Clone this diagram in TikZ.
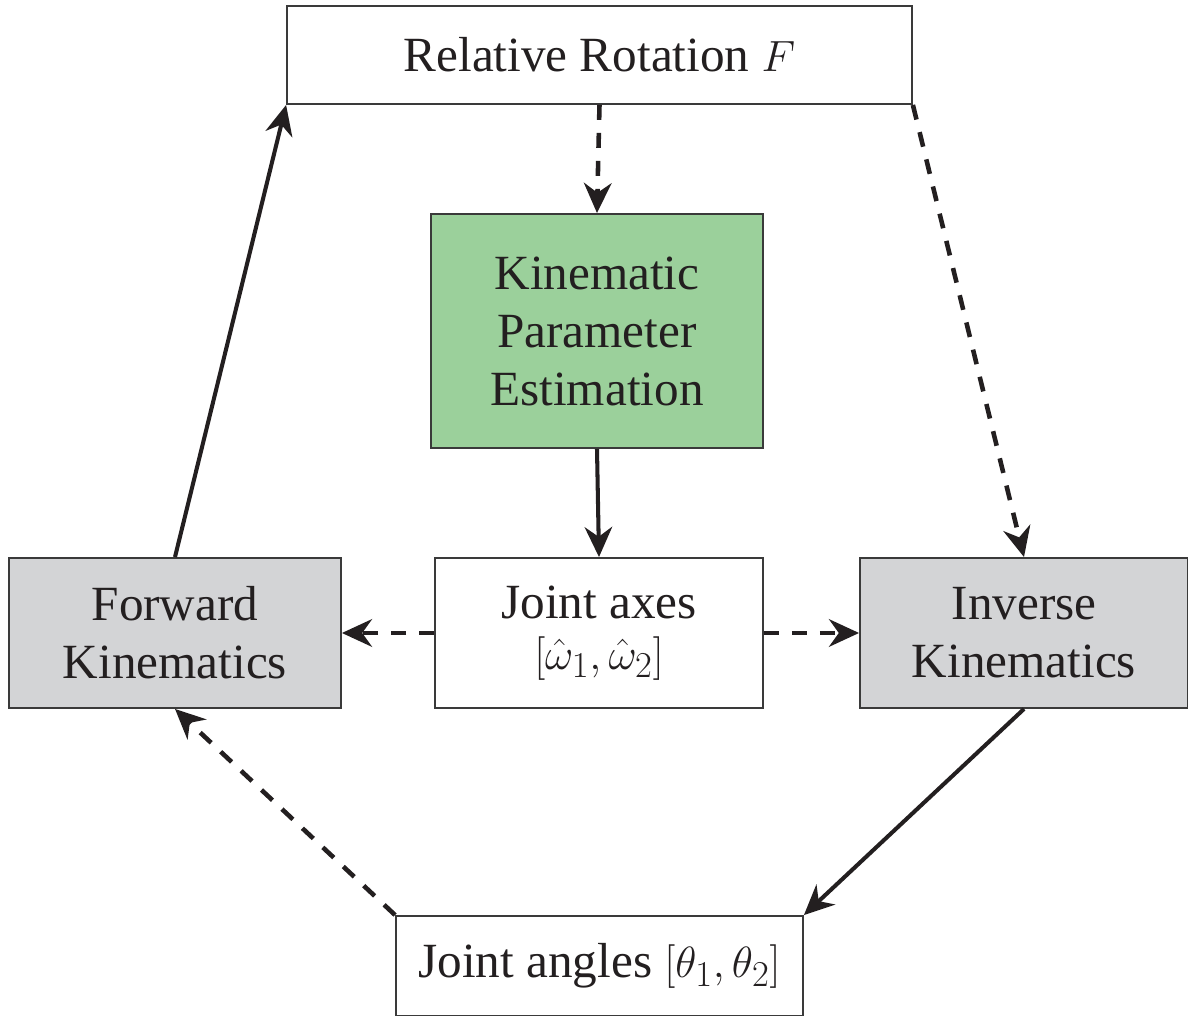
\documentclass[tikz,border=0pt]{standalone}
\usepackage{fontspec}
\setmainfont{Liberation Serif}
\usetikzlibrary{arrows.meta}
\definecolor{ink}{HTML}{231F20}
\definecolor{boxline}{HTML}{3A3A3A}
\definecolor{kgreen}{HTML}{9BD09B}
\definecolor{kgray}{HTML}{D3D4D6}
\begin{document}
\begin{tikzpicture}[x=0.02cm,y=-0.02cm,
  box/.style={draw=boxline, line width=1.1pt, align=center, inner sep=0pt, text=ink, font=\fontsize{28}{33}\selectfont},
  arr/.style={-{Stealth[length=0.6cm,width=0.55cm]}, line width=2.3pt, draw=ink},
  dsh/.style={arr, line width=2.6pt, dash pattern=on 0.3cm off 0.26cm}]
\useasboundingbox (0,0) rectangle (1188,1016);
\node[box, fill=white, minimum width=12.5cm, minimum height=1.96cm] (top) at (599.5,55) {Relative Rotation $F$};
\node[box, fill=kgreen, minimum width=6.64cm, minimum height=4.68cm] (kpe) at (597,331) {Kinematic\\Parameter\\Estimation};
\node[box, fill=white, minimum width=6.56cm, minimum height=3cm] (axes) at (599,633) {\raisebox{-5pt}{Joint axes}\\[-4pt]\raisebox{-5pt}{$[\hat{\omega}_1,\hat{\omega}_2]$}};
\node[box, fill=kgray, minimum width=6.64cm, minimum height=3cm] (fwd) at (175,633) {Forward\\Kinematics};
\node[box, fill=kgray, minimum width=6.56cm, minimum height=3cm] (inv) at (1024,633) {Inverse\\Kinematics};
\node[box, fill=white, minimum width=8.14cm, minimum height=2cm] (ang) at (599.5,966) {Joint angles $[\theta_1,\theta_2]$};
\draw[dsh] (top.south) -- (kpe.north);
\draw[arr] (kpe.south) -- (axes.north);
\draw[dsh] (axes.west) -- (fwd.east);
\draw[dsh] (axes.east) -- (inv.west);
\draw[dsh] (top.south east) -- (inv.north);
\draw[arr] (inv.south) -- (ang.north east);
\draw[dsh] (ang.north west) -- (fwd.south);
\draw[arr] (fwd.north) -- (top.south west);
\end{tikzpicture}
\end{document}
